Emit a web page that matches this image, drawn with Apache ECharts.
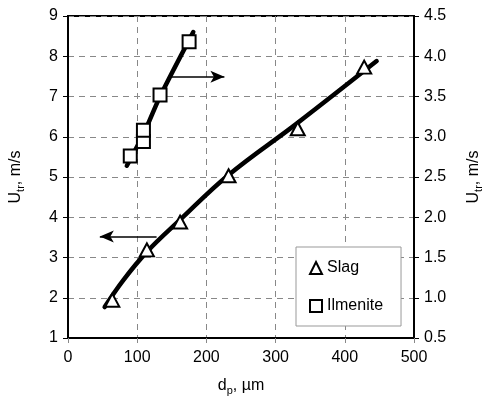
<!DOCTYPE html>
<html>
<head>
<meta charset="utf-8">
<script src="https://cdn.jsdelivr.net/npm/echarts@6/dist/echarts.min.js"></script>
<style>
  html, body {margin: 0; padding: 0; background: #fff;}
  #chart {width: 482px; height: 398px;}
</style>
</head>
<body>
<div id="chart"></div>
<script>
// measured points (triangles / squares)
const slagX = [64, 114, 162, 232, 332, 428];
const slagY = [1.94, 3.19, 3.88, 5.03, 6.2, 7.73];
const ilmX = [90, 109, 109, 133, 175];
const ilmY = [2.76, 2.94, 3.08, 3.52, 4.18];

// fitted curves drawn through them
const slagFitX = [53, 80, 114, 161, 232, 330, 446];
const slagFitY = [1.77, 2.44, 3.14, 3.92, 5.05, 6.32, 7.88];
const ilmFitX = [85, 110, 133, 181];
const ilmFitY = [2.64, 3.05, 3.50, 4.30];

// axis arrows: [x0, x1, y]
const leftArrow = [128, 46, 3.52];
const rightArrow = [150, 226, 3.745];

const zip = (xs, ys) => xs.map((x, i) => [x, ys[i]]);

const font = 'Liberation Sans, Arial, sans-serif';
const gridDash = [6, 5];

const chart = echarts.init(document.getElementById('chart'));

const arrowLine = (a) => ({
  silent: true,
  animation: false,
  symbol: ['none', 'arrow'],
  symbolSize: [9, 14],
  label: {show: false},
  lineStyle: {color: '#000', width: 1.5, type: 'solid'},
  emphasis: {disabled: true},
  data: [[{coord: [a[0], a[2]]}, {coord: [a[1], a[2]]}]]
});

const nameRich = {
  a: {fontFamily: font, fontSize: 16, color: '#000', lineHeight: 20, verticalAlign: 'middle'},
  s: {fontFamily: font, fontSize: 11, color: '#000', lineHeight: 11, verticalAlign: 'bottom'}
};

const option = {
  animation: false,
  textStyle: {fontFamily: font},
  grid: {
    left: 68, right: 68, top: 16, bottom: 60,
    outerBoundsMode: 'none',
    containLabel: false,
    show: true, borderColor: '#000', borderWidth: 2, backgroundColor: 'transparent'
  },
  legend: {
    orient: 'vertical',
    left: 296, top: 247,
    padding: [13, 18, 12, 13],
    itemGap: 22,
    itemWidth: 12, itemHeight: 12,
    itemTextGap: 3,
    borderColor: '#999', borderWidth: 1,
    backgroundColor: '#fff',
    textStyle: {fontFamily: font, fontSize: 16, color: '#000'},
    data: ['Slag', 'Ilmenite']
  },
  xAxis: {
    type: 'value', min: 0, max: 500, interval: 100,
    name: '{a|d}{s|p}{a|, µm}',
    nameLocation: 'middle', nameGap: 38,
    nameTextStyle: {rich: nameRich},
    axisLine: {lineStyle: {color: '#000', width: 2}},
    axisTick: {show: true, length: 5, lineStyle: {color: '#888'}},
    axisLabel: {fontFamily: font, fontSize: 16, color: '#000', margin: 12},
    splitLine: {show: true, lineStyle: {color: '#888', type: gridDash, width: 1}}
  },
  yAxis: [{
    type: 'value', min: 1, max: 9, interval: 1, position: 'left',
    name: '{a|U}{s|tr}{a|, m/s}',
    nameLocation: 'middle', nameGap: 42, nameRotate: 90,
    nameTextStyle: {rich: nameRich},
    axisLine: {show: true, lineStyle: {color: '#000', width: 2}},
    axisTick: {show: true, length: 5, lineStyle: {color: '#000'}},
    axisLabel: {fontFamily: font, fontSize: 16, color: '#000', margin: 10},
    splitLine: {show: true, lineStyle: {color: '#888', type: gridDash, width: 1}}
  }, {
    type: 'value', min: 0.5, max: 4.5, interval: 0.5, position: 'right',
    name: '{a|U}{s|tr}{a|, m/s}',
    nameLocation: 'middle', nameGap: 50, nameRotate: 90,
    nameTextStyle: {rich: nameRich},
    axisLine: {show: true, lineStyle: {color: '#000', width: 2}},
    axisTick: {show: true, length: 5, lineStyle: {color: '#000'}},
    axisLabel: {fontFamily: font, fontSize: 16, color: '#000', margin: 10,
      formatter: (v) => v.toFixed(1)},
    splitLine: {show: false}
  }],
  series: [
    {
      name: 'slagFit', type: 'line', yAxisIndex: 0,
      data: zip(slagFitX, slagFitY),
      smooth: 0.4, showSymbol: false, symbol: 'none',
      lineStyle: {color: '#000', width: 4.5, cap: 'round'},
      z: 2, silent: true,
      markLine: arrowLine(leftArrow)
    },
    {
      name: 'ilmFit', type: 'line', yAxisIndex: 1,
      data: zip(ilmFitX, ilmFitY),
      smooth: 0.3, showSymbol: false, symbol: 'none',
      lineStyle: {color: '#000', width: 4.5, cap: 'round'},
      z: 2, silent: true,
      markLine: arrowLine(rightArrow)
    },
    {
      name: 'Slag', type: 'scatter', yAxisIndex: 0,
      data: zip(slagX, slagY),
      symbol: 'triangle', symbolSize: [14, 13],
      itemStyle: {color: '#fff', borderColor: '#000', borderWidth: 2, opacity: 1},
      z: 5
    },
    {
      name: 'Ilmenite', type: 'scatter', yAxisIndex: 1,
      data: zip(ilmX, ilmY),
      symbol: 'rect', symbolSize: [13, 13],
      itemStyle: {color: '#fff', borderColor: '#000', borderWidth: 2, opacity: 1},
      z: 5
    }
  ]
};

chart.setOption(option);
</script>
</body>
</html>
